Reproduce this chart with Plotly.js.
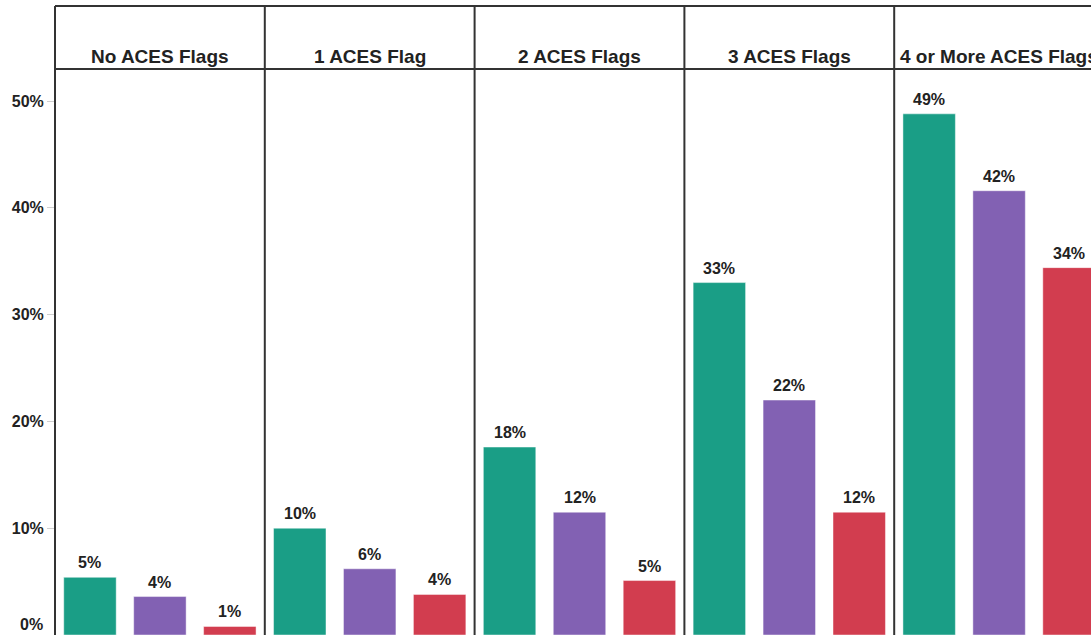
<!DOCTYPE html>
<html>
<head>
<meta charset="utf-8">
<script src="https://cdn.plot.ly/plotly-3.0.1.min.js"></script>
<style>
  html, body { margin: 0; padding: 0; overflow: hidden; background: #fff; }
  #chart { width: 1110px; height: 635px; }
</style>
</head>
<body>
<div id="chart"></div>
<script>
// ---- Data ----
const panels = ['No ACES Flags', '1 ACES Flag', '2 ACES Flags', '3 ACES Flags', '4 or More ACES Flags'];
const groups = ['Group 1', 'Group 2', 'Group 3'];
const seriesGreen  = [5.4, 10.0, 17.6, 33.0, 48.8];
const seriesPurple = [3.6, 6.2, 11.5, 22.0, 41.6];
const seriesRed    = [0.8, 3.8, 5.1, 11.5, 34.4];
const yTickVals = [0, 10, 20, 30, 40, 50];
const yTickText = ['0%', '10%', '20%', '30%', '40%', '50%'];

const colors = ['#1a9e86', '#8261b3', '#d23d4f'];
const textColor = '#222';
const font = 'Liberation Sans, Arial, sans-serif';

const W = 1110, H = 635, mL = 55, mR = 6, mT = 69, mB = 0;
const plotH = H - mT - mB;
const headerTop = 1 + (mT - 6) / plotH;

const traces = [];
const annotations = [];
const layout = {
  width: W, height: H,
  margin: { l: mL, r: mR, t: mT, b: mB, pad: 0 },
  paper_bgcolor: '#fff', plot_bgcolor: '#fff',
  showlegend: false,
  bargap: 0.25,
  font: { family: font, color: textColor },
  yaxis: {
    range: [0, 53],
    tickvals: yTickVals,
    ticktext: yTickText.map((t, i) => i === 0 ? '' : t),
    ticks: 'outside', ticklen: 7, tickcolor: '#cfcfcf', tickwidth: 1,
    tickfont: { family: font, size: 16, color: textColor, weight: 'bold' },
    showgrid: false, zeroline: false, showline: false,
    fixedrange: true
  },
  shapes: [],
  annotations: annotations
};

panels.forEach((p, i) => {
  const ax = i === 0 ? 'x' : 'x' + (i + 1);
  const axKey = i === 0 ? 'xaxis' : 'xaxis' + (i + 1);
  const vals = [seriesGreen[i], seriesPurple[i], seriesRed[i]];
  traces.push({
    type: 'bar', x: groups, y: vals, xaxis: ax, yaxis: 'y',
    marker: { color: colors, line: { color: 'rgba(255,255,255,0.45)', width: 1 } },
    hoverinfo: 'x+y'
  });
  layout[axKey] = {
    domain: [i / 5, (i + 1) / 5], anchor: 'y',
    showticklabels: false, ticks: '', showgrid: false, zeroline: false, showline: false,
    fixedrange: true
  };
  vals.forEach((v, j) => {
    annotations.push({
      xref: ax, yref: 'y', x: groups[j], y: v,
      text: Math.round(v) + '%', showarrow: false,
      yanchor: 'bottom', yshift: 4,
      font: { family: font, size: 16, color: textColor, weight: 'bold' }
    });
  });
  annotations.push({
    xref: 'paper', yref: 'paper', x: (i + 0.5) / 5, y: 1 + 13 / plotH,
    text: p, showarrow: false, yanchor: 'middle', xanchor: 'center',
    font: { family: font, size: 19, color: textColor, weight: 'bold' }
  });
});

// 0% label kept visible at the bottom edge
annotations.push({
  xref: 'paper', yref: 'y', x: 0, y: yTickVals[0], text: yTickText[0],
  showarrow: false, xanchor: 'right', yanchor: 'middle', xshift: -10, yshift: 11,
  font: { family: font, size: 16, color: textColor, weight: 'bold' }
});

// Panel borders
const lineStyle = { color: '#333', width: 2 };
for (let k = 0; k <= 5; k++) {
  layout.shapes.push({ type: 'line', xref: 'paper', yref: 'paper', x0: k / 5, x1: k / 5, y0: -0.05, y1: headerTop, line: lineStyle });
}
layout.shapes.push({ type: 'line', xref: 'paper', yref: 'paper', x0: 0, x1: 1, y0: 1, y1: 1, line: lineStyle });
layout.shapes.push({ type: 'line', xref: 'paper', yref: 'paper', x0: 0, x1: 1, y0: headerTop, y1: headerTop, line: lineStyle });

Plotly.newPlot('chart', traces, layout, { displayModeBar: false, staticPlot: true });
</script>
</body>
</html>
